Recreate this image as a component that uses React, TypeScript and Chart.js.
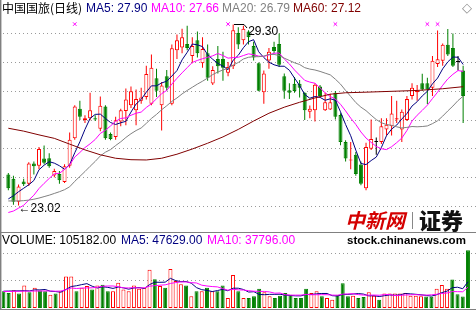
import React, { useEffect, useRef } from "react";
import { Chart, registerables } from "chart.js";

Chart.register(...registerables);

const FONT = '"Liberation Sans", Arial, "Noto Sans CJK SC", sans-serif';
const CJK = '"Noto Sans CJK SC", "Liberation Sans", sans-serif';

// ---------------- data ----------------
const opens = [24.10,23.95,23.15,23.85,23.78,24.48,24.40,24.65,24.66,24.06, 24.11,23.84,24.40,25.35,26.38,25.98,26.05,26.05,25.68,26.45, 25.50,25.40,25.93,26.30,26.50,26.32,26.65,26.78,26.55,27.43, 26.50,27.50,26.55,28.40,28.50,28.62,28.20,28.75,27.95,28.30, 27.25,28.10,28.10,27.62,27.85,29.00,28.75,29.05,28.55,27.95, 26.95,28.05,28.52,28.62,27.50,27.02,27.24,27.24,26.93,26.27, 26.32,27.15,26.32,26.35,26.93,26.16,25.22,24.58,24.78,24.44, 23.62,24.99,25.22,25.22,25.66,25.77,26.00,25.66,25.99,26.82, 26.95,27.26,27.26,27.10,27.93,28.04,28.59,28.48,28.00,27.70];
const highs = [24.15,24.05,23.75,23.95,24.52,24.55,25.05,25.10,24.83,24.30, 24.22,24.45,25.55,26.50,26.65,26.15,26.93,26.15,26.80,26.50, 25.55,26.10,26.38,27.08,27.15,27.04,27.10,27.87,28.26,27.76, 27.30,27.72,28.60,28.95,29.15,29.25,28.85,29.05,28.85,28.60, 27.85,28.55,28.35,28.00,29.30,29.20,29.25,29.10,28.70,27.98, 27.70,28.48,28.70,28.98,27.60,27.26,27.48,27.37,26.95,26.49, 27.26,27.20,26.93,26.90,26.99,26.22,25.28,25.22,24.88,24.55, 25.20,26.00,25.38,26.05,26.05,26.82,26.65,26.35,26.82,27.26, 27.20,27.59,27.45,28.20,29.09,28.64,29.14,28.98,28.20,27.87];
const lows = [23.55,23.05,23.02,23.70,23.70,24.10,24.28,24.45,24.33,24.00, 23.78,23.80,24.33,25.30,25.99,25.88,25.98,25.95,25.60,25.30, 25.28,25.30,25.77,25.80,26.40,25.80,26.55,26.70,26.50,26.78, 25.62,27.00,26.50,28.10,28.30,28.40,27.95,28.15,27.80,27.35, 27.20,27.60,27.35,27.50,27.75,28.45,28.60,28.60,28.05,26.98, 26.55,27.76,28.31,27.82,26.72,26.71,26.93,26.77,25.99,26.05, 25.93,26.78,26.30,26.33,26.00,25.11,24.55,24.28,24.05,23.72, 23.55,24.95,24.78,25.15,25.45,25.45,25.88,25.22,25.95,26.70, 26.65,27.00,26.54,26.82,27.82,27.87,28.20,27.82,27.70,25.88];
const closes = [23.62,23.15,23.68,23.76,24.48,24.38,24.98,24.50,24.38,24.22, 23.90,24.38,25.30,26.45,26.10,26.05,26.32,26.00,26.48,25.35, 25.33,25.98,26.32,26.70,26.98,26.71,26.77,27.58,27.80,27.00, 27.18,27.10,28.47,28.75,28.85,28.48,28.55,28.30,28.45,27.45, 27.72,27.85,27.80,27.82,29.10,28.60,29.15,28.85,28.15,27.00, 27.60,28.35,28.38,27.90,27.00,26.93,26.99,27.10,26.32,26.38, 27.21,26.82,26.60,26.60,26.10,25.22,24.65,24.62,24.11,23.78, 25.05,25.33,25.22,25.77,25.82,26.21,26.05,26.27,26.71,27.10, 26.99,27.04,27.04,28.04,28.09,28.59,28.26,27.87,28.00,26.82];

const ma5 = [23.25,23.36,23.50,23.62,23.74,23.89,24.26,24.42,24.54,24.49, 24.40,24.28,24.44,24.85,25.23,25.66,26.04,26.18,26.19,26.04, 25.90,25.83,25.89,25.94,26.26,26.54,26.70,26.95,27.17,27.17, 27.27,27.33,27.51,27.70,28.07,28.33,28.62,28.59,28.53,28.25, 28.09,27.95,27.85,27.73,28.06,28.23,28.49,28.70,28.77,28.35, 28.15,27.99,27.90,27.85,27.85,27.71,27.44,27.18,26.87,26.74, 26.80,26.77,26.67,26.72,26.67,26.27,25.83,25.44,24.94,24.48, 24.44,24.58,24.70,25.03,25.44,25.67,25.81,26.02,26.21,26.47, 26.62,26.82,26.98,27.24,27.44,27.76,28.00,28.17,28.16,27.91];
const ma10 = [22.78,22.83,22.93,23.03,23.21,23.38,23.61,23.79,23.96,24.12, 24.14,24.27,24.43,24.70,24.86,25.03,25.16,25.31,25.52,25.63, 25.78,25.94,26.04,26.06,26.15,26.22,26.26,26.42,26.55,26.72, 26.90,27.01,27.23,27.43,27.62,27.80,27.98,28.05,28.11,28.16, 28.21,28.29,28.22,28.13,28.15,28.16,28.22,28.28,28.25,28.20, 28.19,28.24,28.30,28.31,28.10,27.93,27.72,27.54,27.36,27.30, 27.26,27.10,26.93,26.80,26.71,26.53,26.30,26.05,25.83,25.57, 25.36,25.21,25.07,24.99,24.96,25.06,25.20,25.36,25.62,25.95, 26.15,26.32,26.50,26.73,26.95,27.19,27.41,27.57,27.70,27.67];
const ma20 = [23.18,23.18,23.18,23.19,23.21,23.24,23.28,23.33,23.38,23.44, 23.50,23.57,23.67,23.86,24.03,24.20,24.38,24.55,24.74,24.87, 24.96,25.10,25.23,25.38,25.51,25.62,25.71,25.87,26.04,26.18, 26.34,26.48,26.63,26.75,26.89,27.01,27.12,27.23,27.33,27.44, 27.56,27.65,27.72,27.78,27.89,27.98,28.10,28.16,28.18,28.18, 28.20,28.26,28.26,28.22,28.13,28.05,27.97,27.91,27.80,27.75, 27.72,27.67,27.61,27.55,27.40,27.23,27.01,26.80,26.59,26.43, 26.31,26.15,26.00,25.89,25.83,25.80,25.75,25.71,25.73,25.76, 25.75,25.76,25.78,25.86,25.96,26.12,26.30,26.47,26.66,26.81];
const ma60Days = [0,3,6,9,12,15,18,21,24,27,30,33,36,39,42,45,48,51,54,57,60,63,66,70,75,80,85,89];
const ma60Values = [25.70,25.60,25.47,25.35,25.15,24.95,24.78,24.66,24.61,24.60,24.66,24.80,24.98,25.18,25.40,25.66,25.95,26.22,26.43,26.60,26.75,26.88,26.93,26.95,26.98,27.01,27.07,27.14];

const volumes = [30500,27400,32400,26200,41100,28600,36700,31800,30500,24300, 26200,30500,57300,57300,30500,36700,39800,33600,41100,42300, 30500,30500,46100,33600,30500,41100,34900,36700,69700,52300, 39800,36700,71000,49200,43000,41100,21200,30500,30500,36700, 30500,30500,41100,18100,60000,30500,18100,18100,21200,34900, 28600,21200,18100,22400,27400,24300,18100,18100,34900,27400, 30500,21200,18100,14900,24300,44800,21200,22400,18100,19900, 28600,22400,14900,26200,26200,26200,26200,27400,22400,22400, 21500,21000,20500,35000,41800,35000,52000,25000,21000,105182];
const volMa5 = [30500,30800,31000,31200,31500,31100,33000,32900,33700,30400, 29900,28700,33800,39100,40400,42500,44300,39600,36300,38700, 37500,35600,38100,36600,34200,36400,37200,35400,42600,46900, 46700,47000,53900,49800,47900,48200,45100,37000,33300,32000, 29900,31700,33900,31400,36000,36000,33600,29000,29600,24600, 24200,24800,24800,25000,23500,22700,22100,22100,24600,24600, 25800,26400,26400,22400,21800,24700,24700,25500,26200,25300, 22000,22300,20800,22400,23700,23200,23900,26400,25700,24900, 24000,22900,21600,24100,28000,30700,36900,37800,35000,47629];
const volMa10 = [30000,30000,30200,30400,30600,30700,30800,30900,31000,31000, 30500,30800,33300,36400,35400,36200,36500,36700,37700,39500, 40000,40000,38800,36500,36500,36900,36400,36700,39600,40600, 41500,42100,44600,46200,47400,47400,46100,45500,41500,40000, 39000,38400,35400,32300,34000,33000,32700,31400,30500,30300, 30100,29200,26900,27300,24100,23400,23400,23400,24800,24100, 24200,24200,24200,23500,23200,25200,25500,26000,24300,23500, 23400,23500,23200,24300,24500,22600,23100,23600,24000,24300, 23600,23400,24000,24900,26400,27300,29900,29700,29500,37796];

const markerDays = [13, 43, 64, 82, 84];
const priceGridLevels = [23, 24, 25, 26, 27, 28, 29];
const volumeGridLevels = [50000, 100000];

const stockTitle = "中国国旅(日线)";
const priceLegend = [
  { text: "MA5: 27.90", color: "#000080", left: 86 },
  { text: "MA10: 27.66", color: "#FF00FF", left: 151 },
  { text: "MA20: 26.79", color: "#808080", left: 222 },
  { text: "MA60: 27.12", color: "#800000", left: 293 },
];
const volumeLegend = [
  { text: "VOLUME: 105182.00", color: "#000000", left: 2 },
  { text: "MA5: 47629.00", color: "#000080", left: 121 },
  { text: "MA10: 37796.00", color: "#FF00FF", left: 207 },
];

// ---------------- styling ----------------
const RED = "#FF0000";
const GREEN = "#008000";
const BLACK = "#000000";
const X_MIN = -0.651;
const X_MAX = 90.54;
const PRICE_MIN = 22.277;
const PRICE_MAX = 29.972;
const VOL_MIN = -3636;
const VOL_MAX = 138168;
const MARKER_LEVEL = 29.31;

const candleColors = closes.map((c, i) => (c > opens[i] ? RED : c < opens[i] ? GREEN : BLACK));
const volumeColors = closes.map((c, i) => (c > opens[i] ? RED : GREEN));

const dottedGrid = (levels: number[]) => ({
  id: "dottedGrid",
  beforeDatasetsDraw(chart: any) {
    const { ctx } = chart;
    const y = chart.scales.y;
    ctx.save();
    ctx.strokeStyle = "#9a9a9a";
    ctx.lineWidth = 1;
    ctx.setLineDash([1, 3]);
    levels.forEach((v) => {
      const py = Math.round(y.getPixelForValue(v)) + 0.5;
      ctx.beginPath();
      ctx.moveTo(3, py);
      ctx.lineTo(chart.width, py);
      ctx.stroke();
    });
    ctx.restore();
  },
});

const extremaLabels = {
  id: "extremaLabels",
  afterDatasetsDraw(chart: any) {
    const { ctx } = chart;
    const x = chart.scales.x;
    const y = chart.scales.y;
    let hi = 0;
    let lo = 0;
    highs.forEach((h, i) => { if (h > highs[hi]) hi = i; });
    lows.forEach((l, i) => { if (l < lows[lo]) lo = i; });
    ctx.save();
    ctx.font = "12px " + FONT;
    ctx.fillStyle = "#000";
    ctx.strokeStyle = "#000";
    ctx.lineWidth = 1;
    ctx.textBaseline = "middle";
    const lx = x.getPixelForValue(lo);
    const ly = y.getPixelForValue(lows[lo]);
    ctx.fillText("\u2190" + lows[lo].toFixed(2), lx, ly + 3);
    const hx = x.getPixelForValue(hi);
    const hy = y.getPixelForValue(highs[hi]);
    ctx.beginPath();
    ctx.moveTo(Math.round(hx) + 1, Math.round(hy) + 0.5);
    ctx.lineTo(Math.round(hx) + 11, Math.round(hy) + 0.5);
    ctx.lineTo(Math.round(hx) + 14, Math.round(hy) + 4);
    ctx.stroke();
    ctx.fillText(highs[hi].toFixed(2), hx + 15, hy + 7);
    ctx.restore();
  },
};

const line = (values: number[], color: string, days?: number[]) => ({
  type: "line" as const,
  data: values.map((v, i) => ({ x: days ? days[i] : i, y: v })),
  borderColor: color,
  borderWidth: 1,
  pointRadius: 0,
  tension: 0,
  fill: false,
  order: 1,
});

const baseOptions = (yMin: number, yMax: number) => ({
  animation: false as const,
  responsive: false,
  devicePixelRatio: 1,
  events: [],
  layout: { padding: 0 },
  plugins: { legend: { display: false }, tooltip: { enabled: false }, title: { display: false } },
  scales: {
    x: { type: "linear" as const, min: X_MIN, max: X_MAX, display: false, offset: false },
    y: { type: "linear" as const, min: yMin, max: yMax, display: false },
  },
});

export default function App() {
  const mainRef = useRef<HTMLCanvasElement>(null);
  const volRef = useRef<HTMLCanvasElement>(null);

  useEffect(() => {
    const main = new Chart(mainRef.current as HTMLCanvasElement, {
      type: "bar",
      data: {
        datasets: [
          {
            type: "bar",
            data: lows.map((l, i) => ({ x: i, y: [l, highs[i]] })),
            backgroundColor: candleColors,
            borderWidth: 0,
            barThickness: 1,
            grouped: false,
            inflateAmount: 0,
            order: 3,
          } as any,
          {
            type: "bar",
            data: opens.map((o, i) => ({ x: i, y: [o, closes[i]] })),
            backgroundColor: candleColors.map((c) => (c === RED ? "#FFFFFF" : c)),
            borderColor: candleColors,
            borderWidth: 1,
            borderSkipped: false,
            barThickness: 4,
            grouped: false,
            inflateAmount: 0,
            minBarLength: 1,
            order: 2,
          } as any,
          line(ma60Values, "#800000", ma60Days),
          line(ma20, "#808080"),
          line(ma10, "#FF00FF"),
          line(ma5, "#000080"),
          {
            type: "line",
            data: markerDays.map((d) => ({ x: d, y: MARKER_LEVEL })),
            showLine: false,
            pointStyle: "crossRot",
            pointRadius: 2.5,
            pointBorderColor: "#FF00FF",
            pointBackgroundColor: "#FF00FF",
            pointBorderWidth: 1,
            order: 0,
          } as any,
        ],
      },
      options: baseOptions(PRICE_MIN, PRICE_MAX) as any,
      plugins: [dottedGrid(priceGridLevels), extremaLabels],
    });

    const vol = new Chart(volRef.current as HTMLCanvasElement, {
      type: "bar",
      data: {
        datasets: [
          {
            type: "bar",
            data: volumes.map((v, i) => ({ x: i, y: v })),
            backgroundColor: volumeColors.map((c) => (c === RED ? "#FFFFFF" : c)),
            borderColor: volumeColors,
            borderWidth: 1,
            borderSkipped: false,
            barThickness: 4,
            grouped: false,
            inflateAmount: 0,
            order: 2,
          } as any,
          line(volMa10, "#FF00FF"),
          line(volMa5, "#000080"),
        ],
      },
      options: baseOptions(VOL_MIN, VOL_MAX) as any,
      plugins: [dottedGrid(volumeGridLevels)],
    });

    return () => {
      main.destroy();
      vol.destroy();
    };
  }, []);

  const textStyle = (left: number, top: number, color: string) => ({
    position: "absolute" as const,
    left,
    top,
    color,
    fontFamily: FONT,
    fontSize: 12,
    lineHeight: "14px",
    whiteSpace: "nowrap" as const,
  });

  return (
    <div style={{ position: "absolute", left: 0, top: 0, width: 476, height: 310, background: "#FFFFFF", overflow: "hidden" }}>
      <canvas ref={mainRef} width={476} height={232} style={{ position: "absolute", left: 0, top: 0, width: 476, height: 232 }} />
      <canvas ref={volRef} width={476} height={78} style={{ position: "absolute", left: 0, top: 232, width: 476, height: 78 }} />
      <div style={{ position: "absolute", left: 0, top: 0, width: 1, height: 310, background: "#808080" }} />
      <div style={{ position: "absolute", left: 1, top: 0, width: 1, height: 310, background: "#c8c8c8" }} />
      <div style={{ position: "absolute", left: 0, top: 232, width: 476, height: 1, background: "#808080" }} />
      <div style={{ position: "absolute", left: 0, top: 309, width: 476, height: 1, background: "#808080" }} />

      <div style={{ ...textStyle(2, 1, "#000000"), fontFamily: CJK }}>{stockTitle}</div>
      {priceLegend.map((p) => (
        <div key={p.text} style={textStyle(p.left, 1, p.color)}>{p.text}</div>
      ))}
      <div style={{ ...textStyle(462, 1, "#8a8a8a"), fontFamily: '"DejaVu Sans", sans-serif', fontSize: 13 }}>◇</div>

      {volumeLegend.map((p) => (
        <div key={p.text} style={textStyle(p.left, 233, p.color)}>{p.text}</div>
      ))}

      <div style={{ position: "absolute", left: 345, top: 209, fontFamily: CJK, fontSize: 20, lineHeight: "22px", fontWeight: 700, color: "#D40000", fontStyle: "italic", whiteSpace: "nowrap" }}>中新网</div>
      <div style={{ position: "absolute", left: 412, top: 212, width: 1, height: 17, background: "#888888" }} />
      <div style={{ position: "absolute", left: 419, top: 208, fontFamily: CJK, fontSize: 22, lineHeight: "22px", fontWeight: 900, color: "#111111", whiteSpace: "nowrap" }}>证券</div>
      <div style={{ position: "absolute", left: 347, top: 233, fontFamily: FONT, fontSize: 11.5, lineHeight: "14px", fontWeight: 700, color: "#000000", whiteSpace: "nowrap" }}>stock.chinanews.com</div>
    </div>
  );
}
